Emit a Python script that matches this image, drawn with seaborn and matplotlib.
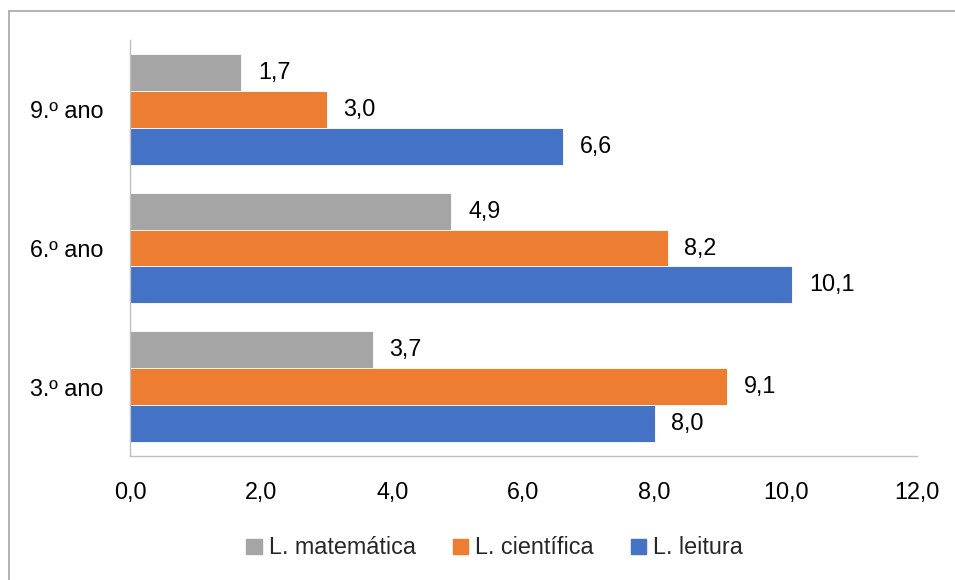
import matplotlib
matplotlib.use("Agg")
import matplotlib.pyplot as plt
from matplotlib.lines import Line2D
from matplotlib.ticker import FuncFormatter, MultipleLocator
import seaborn as sns
import pandas as pd

# Data
anos = ["9.º ano", "6.º ano", "3.º ano"]
series = ["L. matemática", "L. científica", "L. leitura"]
matematica = [1.7, 4.9, 3.7]
cientifica = [3.0, 8.2, 9.1]
leitura = [6.6, 10.1, 8.0]
cores = ["#A5A5A5", "#ED7D31", "#4472C4"]

df = pd.DataFrame({
    "ano": anos * 3,
    "serie": [series[0]] * 3 + [series[1]] * 3 + [series[2]] * 3,
    "valor": matematica + cientifica + leitura,
})

sns.set_theme(style="white")
plt.rcParams["font.family"] = ["Liberation Sans", "DejaVu Sans"]
FS = 16.8

W, H = 955, 580
fig = plt.figure(figsize=(W / 100, H / 100), dpi=100)
ax = fig.add_axes([130 / W, 1 - 456 / H, (917 - 130) / W, (456 - 40) / H])

sns.barplot(data=df, x="valor", y="ano", hue="serie", order=anos,
            hue_order=series, palette=cores, orient="h", width=0.8,
            saturation=1, edgecolor="white", linewidth=0.6, ax=ax)

fmt = lambda v: f"{v:.1f}".replace(".", ",")
for cont in ax.containers:
    ax.bar_label(cont, labels=[fmt(b.get_width()) for b in cont],
                 padding=12, fontsize=FS, color="#000000")

ax.set_xlim(0, 12)
ax.xaxis.set_major_locator(MultipleLocator(2))
ax.xaxis.set_major_formatter(FuncFormatter(lambda v, p: fmt(v)))
ax.set_xlabel("")
ax.set_ylabel("")
ax.tick_params(axis="both", length=0, labelsize=FS, colors="#000000")
ax.tick_params(axis="x", pad=18)
ax.tick_params(axis="y", pad=19)

for s in ["top", "right"]:
    ax.spines[s].set_visible(False)
for s in ["left", "bottom"]:
    ax.spines[s].set_color("#BFBFBF")
    ax.spines[s].set_linewidth(1.0)

ax.legend_.remove()
handles = [plt.Rectangle((0, 0), 1, 1, color=c) for c in cores]
fig.legend(handles, series, loc="center", bbox_to_anchor=(0.518, 1 - 548 / H),
           ncol=3, frameon=False, fontsize=FS, handlelength=0.65,
           handleheight=0.65, handletextpad=0.3, columnspacing=1.6)

# Chart area border (top and left edges)
fig.add_artist(Line2D([9 / W, 1], [1 - 11 / H, 1 - 11 / H], transform=fig.transFigure,
                      color="#A6A6A6", linewidth=1.2))
fig.add_artist(Line2D([9 / W, 9 / W], [0, 1 - 11 / H], transform=fig.transFigure,
                      color="#A6A6A6", linewidth=1.2))

fig.savefig("out.png", dpi=100, facecolor="white")
